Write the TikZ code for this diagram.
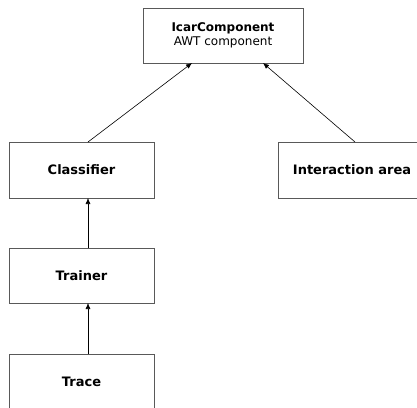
\documentclass[tikz,border=0pt]{standalone}
\usepackage{fontspec}
\setmainfont{DejaVu Sans}
\usetikzlibrary{arrows.meta}
\begin{document}
\begin{tikzpicture}[x=1pt,y=-1pt,
  box/.style={draw=black!65,line width=0.8pt,fill=white,inner sep=0pt,outer sep=0pt,align=center},
  lab/.style={font=\fontsize{13}{15}\selectfont\bfseries},
  arr/.style={draw=black,line width=0.6pt,-{Latex[length=6pt,width=5pt]}}]
\useasboundingbox (0,0) rectangle (417,407);
\clip (0,0) rectangle (417,407);
\fill[white] (0,0) rectangle (417,407);
\node[box,minimum width=160pt,minimum height=55pt,font=\fontsize{12}{14}\selectfont] (top) at (223,35.5)
  {\textbf{IcarComponent}\\AWT component};
\node[box,lab,minimum width=145pt,minimum height=56pt] (cls) at (81.5,170) {Classifier};
\node[box,lab,minimum width=148pt,minimum height=56pt] (ia) at (352,170) {Interaction area};
\node[box,lab,minimum width=145pt,minimum height=55pt] (trn) at (81.5,275.5) {Trainer};
\node[box,lab,minimum width=145pt,minimum height=56pt] (trc) at (81.5,382) {Trace};
\draw[arr] ([xshift=6.5pt]cls.north) -- ([xshift=-31pt]top.south);
\draw[arr] ([xshift=3pt]ia.north) -- ([xshift=40pt]top.south);
\draw[arr] ([xshift=6.5pt]trn.north) -- ([xshift=6.5pt]cls.south);
\draw[arr] ([xshift=6.5pt]trc.north) -- ([xshift=6.5pt]trn.south);
\end{tikzpicture}
\end{document}
